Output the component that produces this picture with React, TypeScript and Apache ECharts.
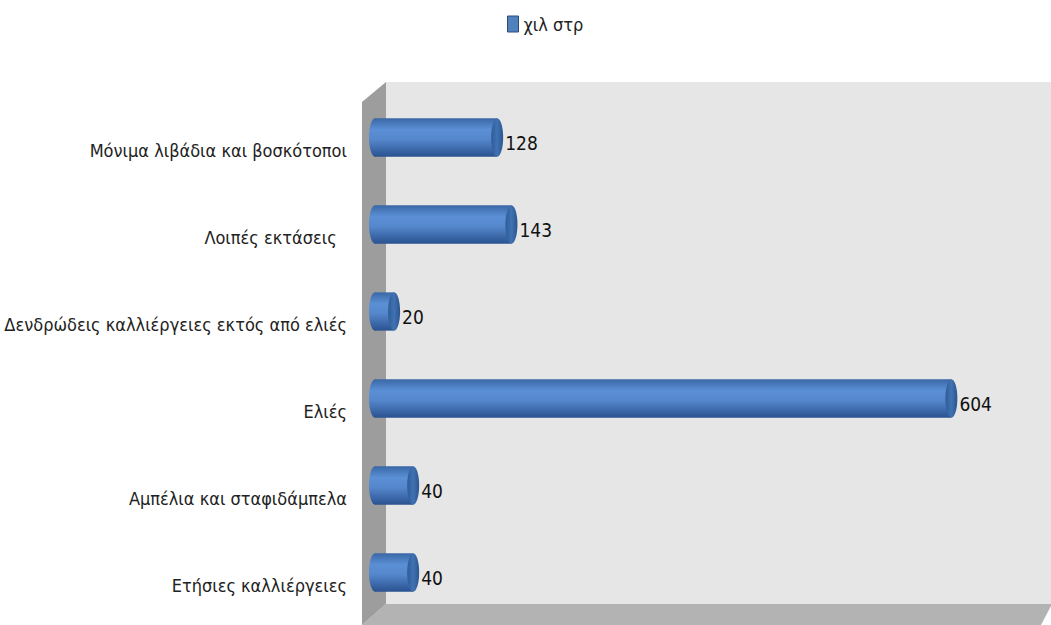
import React, { useEffect, useRef } from "react";
import * as echarts from "echarts";

const categories = [
  "Μόνιμα λιβάδια και βοσκότοποι",
  "Λοιπές εκτάσεις  ",
  "Δενδρώδεις καλλιέργειες εκτός από ελιές",
  "Ελιές",
  "Αμπέλια και σταφιδάμπελα",
  "Ετήσιες καλλιέργειες",
];
const values = [128, 143, 20, 604, 40, 40];
const seriesName = "χιλ στρ";
const axisMax = 700;

const FONT = "'Liberation Sans Narrow', 'DejaVu Sans Condensed', 'Liberation Sans', sans-serif";

export default function App() {
  const ref = useRef<HTMLDivElement>(null);
  useEffect(() => {
    if (!ref.current) return;
    const chart = echarts.init(ref.current, undefined, { renderer: "svg" });
    const bodyGrad = () =>
      new echarts.graphic.LinearGradient(0, 0, 0, 1, [
        { offset: 0, color: "#3a68a6" },
        { offset: 0.3, color: "#5b90d6" },
        { offset: 0.55, color: "#5587cc" },
        { offset: 1, color: "#2a5290" },
      ]);
    const capGrad = () =>
      new echarts.graphic.LinearGradient(0, 0, 1, 0, [
        { offset: 0, color: "#2f5c98" },
        { offset: 0.5, color: "#4072b2" },
        { offset: 1, color: "#2b5590" },
      ]);
    const rx = 6;
    chart.setOption({
      animation: false,
      backgroundColor: "#ffffff",
      legend: {
        left: 502,
        top: 10,
        itemWidth: 11,
        itemHeight: 16,
        itemGap: 4,
        textStyle: { fontSize: 18, fontFamily: FONT, color: "#222" },
        data: [
          {
            name: seriesName,
            icon: "rect",
            itemStyle: { color: "#4f81bd", borderColor: "#2c4d75", borderWidth: 1 },
          },
        ],
      },
      graphic: {
        elements: [
          {
            type: "polygon",
            z: 0,
            shape: { points: [[386, 82], [1051, 82], [1051, 604], [386, 604]] },
            style: { fill: "#e6e6e6" },
          },
          {
            type: "polygon",
            z: 0,
            shape: { points: [[386, 604], [1051, 604], [1051, 606], [1041, 625], [362, 625]] },
            style: { fill: "#b3b3b3" },
          },
          {
            type: "polygon",
            z: 0,
            shape: { points: [[362, 102], [386, 82], [386, 604], [362, 625]] },
            style: { fill: "#9d9d9d" },
          },
        ],
      },
      grid: { left: 375, right: 8, top: 94, bottom: 9, containLabel: false, outerBoundsMode: "none" },
      xAxis: { type: "value", min: 0, max: axisMax, show: false },
      yAxis: {
        type: "category",
        data: categories,
        inverse: true,
        axisLine: { show: false },
        axisTick: { show: false },
        splitLine: { show: false },
        axisLabel: {
          margin: 28,
          fontSize: 18,
          fontFamily: FONT,
          color: "#222",
          verticalAlign: "top",
          padding: [4, 0, 0, 0],
        },
      },
      series: [
        {
          type: "custom",
          name: seriesName,
          z: 5,
          itemStyle: { color: "#4f81bd" },
          encode: { x: 0, y: 1 },
          data: values.map((v, i) => [v, i]),
          renderItem: (params: any, api: any) => {
            const v = api.value(0);
            const c = api.value(1);
            const start = api.coord([0, c]);
            const end = api.coord([v, c]);
            const h = api.size([0, 1])[1] * 0.44;
            const cy = start[1];
            return {
              type: "group",
              children: [
                {
                  type: "ellipse",
                  shape: { cx: start[0], cy, rx, ry: h / 2 },
                  style: { fill: bodyGrad() },
                },
                {
                  type: "rect",
                  shape: { x: start[0], y: cy - h / 2, width: end[0] - start[0], height: h },
                  style: { fill: bodyGrad() },
                },
                {
                  type: "ellipse",
                  shape: { cx: end[0], cy, rx, ry: h / 2 },
                  style: { fill: capGrad() },
                },
                {
                  type: "text",
                  style: {
                    text: String(v),
                    x: end[0] + rx + 2,
                    y: cy + 5,
                    verticalAlign: "middle",
                    align: "left",
                    fontSize: 19,
                    fontFamily: FONT,
                    fill: "#111",
                  },
                },
              ],
            };
          },
        },
      ],
    });
    return () => chart.dispose();
  }, []);
  return <div ref={ref} style={{ width: 1051, height: 625, position: "absolute", left: 0, top: 0 }} />;
}
